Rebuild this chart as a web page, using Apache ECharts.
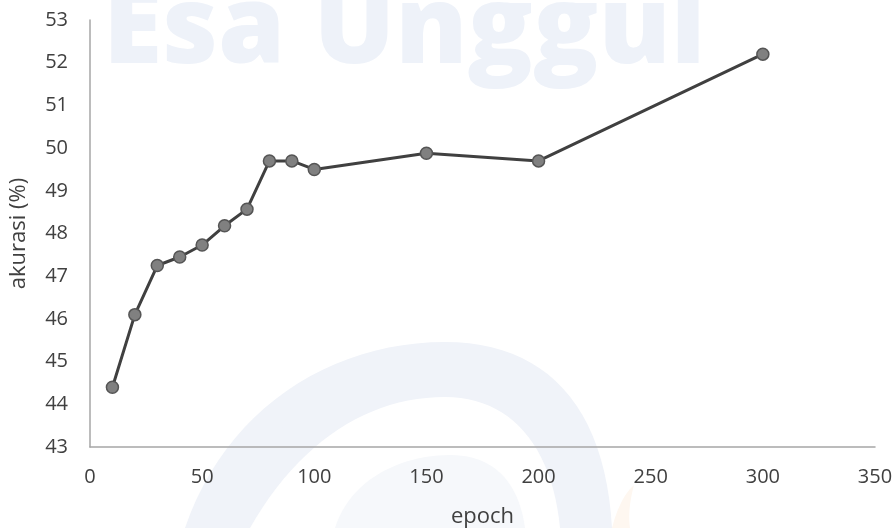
<!DOCTYPE html>
<html>
<head>
<meta charset="utf-8">
<script src="https://cdn.jsdelivr.net/npm/echarts@6/dist/echarts.min.js"></script>
<style>
  html, body { margin: 0; padding: 0; background: #ffffff; }
  #chart { width: 895px; height: 528px; }
</style>
</head>
<body>
<div id="chart"></div>
<script>
// Training epochs and the accuracy reached at each one
const epochs = [10, 20, 30, 40, 50, 60, 70, 80, 90, 100, 150, 200, 300];
const accuracy = [44.4, 46.1, 47.25, 47.45, 47.73, 48.18, 48.57, 49.7, 49.7, 49.5, 49.88, 49.7, 52.2];

const xTicks = { min: 0, max: 350, step: 50 };
const yTicks = { min: 43, max: 53, step: 1 };

const labelFont = '"Open Sans", "Noto Sans", sans-serif';
const textColor = '#404040';

// Turn a chain of cubic Bézier segments into polygon points for the watermark shapes
function bezierOutline(start, segments) {
  const pts = [start];
  let p0 = start;
  segments.forEach(seg => {
    if (seg.length === 1) { pts.push(seg[0]); p0 = seg[0]; return; }
    const [c1, c2, p3] = seg;
    for (let i = 1; i <= 24; i++) {
      const t = i / 24, u = 1 - t;
      pts.push([
        u*u*u*p0[0] + 3*u*u*t*c1[0] + 3*u*t*t*c2[0] + t*t*t*p3[0],
        u*u*u*p0[1] + 3*u*u*t*c1[1] + 3*u*t*t*c2[1] + t*t*t*p3[1]
      ]);
    }
    p0 = p3;
  });
  return pts;
}

const swirl = bezierOutline([185, 528], [
  [[225, 410], [330, 342], [445, 342]],
  [[545, 342], [605, 405], [612, 528]],
  [[560, 528]],
  [[552, 445], [510, 397], [445, 397]],
  [[370, 397], [300, 440], [250, 528]]
]);
const swoosh = bezierOutline([292, 405], [
  [[270, 440], [258, 475], [255, 505]],
  [[262, 470], [280, 435], [292, 405]]
]);
const core = bezierOutline([335, 528], [
  [[350, 480], [400, 455], [450, 455]],
  [[500, 455], [520, 490], [525, 528]]
]);
const flame = bezierOutline([612, 528], [
  [[618, 505], [626, 492], [634, 485]],
  [[630, 500], [628, 515], [630, 528]]
]);

const chart = echarts.init(document.getElementById('chart'), null, { renderer: 'canvas' });

chart.setOption({
  backgroundColor: '#ffffff',
  animation: false,
  graphic: [
    { type: 'polygon', z: -10, silent: true, shape: { points: swirl }, style: { fill: '#f0f3f9' } },
    { type: 'polygon', z: -10, silent: true, shape: { points: swoosh }, style: { fill: '#f0f3f9' } },
    { type: 'polygon', z: -10, silent: true, shape: { points: core }, style: { fill: '#f6f8fb' } },
    { type: 'polygon', z: -10, silent: true, shape: { points: flame }, style: { fill: '#fef7f0' } },
    {
      type: 'text', z: -10, silent: true,
      left: 103, top: -22,
      style: {
        text: 'Esa Unggul',
        font: '800 108px "Open Sans", "Noto Sans", sans-serif',
        fill: '#eef2f9'
      }
    }
  ],
  grid: { left: 90, right: 20, top: 20, bottom: 81, containLabel: false, outerBoundsMode: 'none' },
  xAxis: {
    type: 'value',
    min: xTicks.min, max: xTicks.max, interval: xTicks.step,
    name: 'epoch',
    nameLocation: 'middle',
    nameGap: 59,
    nameTextStyle: { color: textColor, fontSize: 22, fontFamily: labelFont },
    axisLine: { show: true, lineStyle: { color: '#a6a6a6', width: 1.5 } },
    axisTick: { show: false },
    splitLine: { show: false },
    axisLabel: { color: textColor, fontSize: 20, fontFamily: labelFont, margin: 20 }
  },
  yAxis: {
    type: 'value',
    min: yTicks.min, max: yTicks.max, interval: yTicks.step,
    name: 'akurasi (%)',
    nameLocation: 'middle',
    nameGap: 60,
    nameRotate: 90,
    nameTextStyle: { color: textColor, fontSize: 22, fontFamily: labelFont },
    axisLine: { show: true, lineStyle: { color: '#a6a6a6', width: 1.5 } },
    axisTick: { show: false },
    splitLine: { show: false },
    axisLabel: { color: textColor, fontSize: 20, fontFamily: labelFont, margin: 22 }
  },
  series: [{
    type: 'line',
    data: epochs.map((e, i) => [e, accuracy[i]]),
    symbol: 'circle',
    symbolSize: 12,
    lineStyle: { color: '#404040', width: 3 },
    itemStyle: { color: '#808080', borderColor: '#555555', borderWidth: 1.5 },
    z: 5
  }]
});
</script>
</body>
</html>
